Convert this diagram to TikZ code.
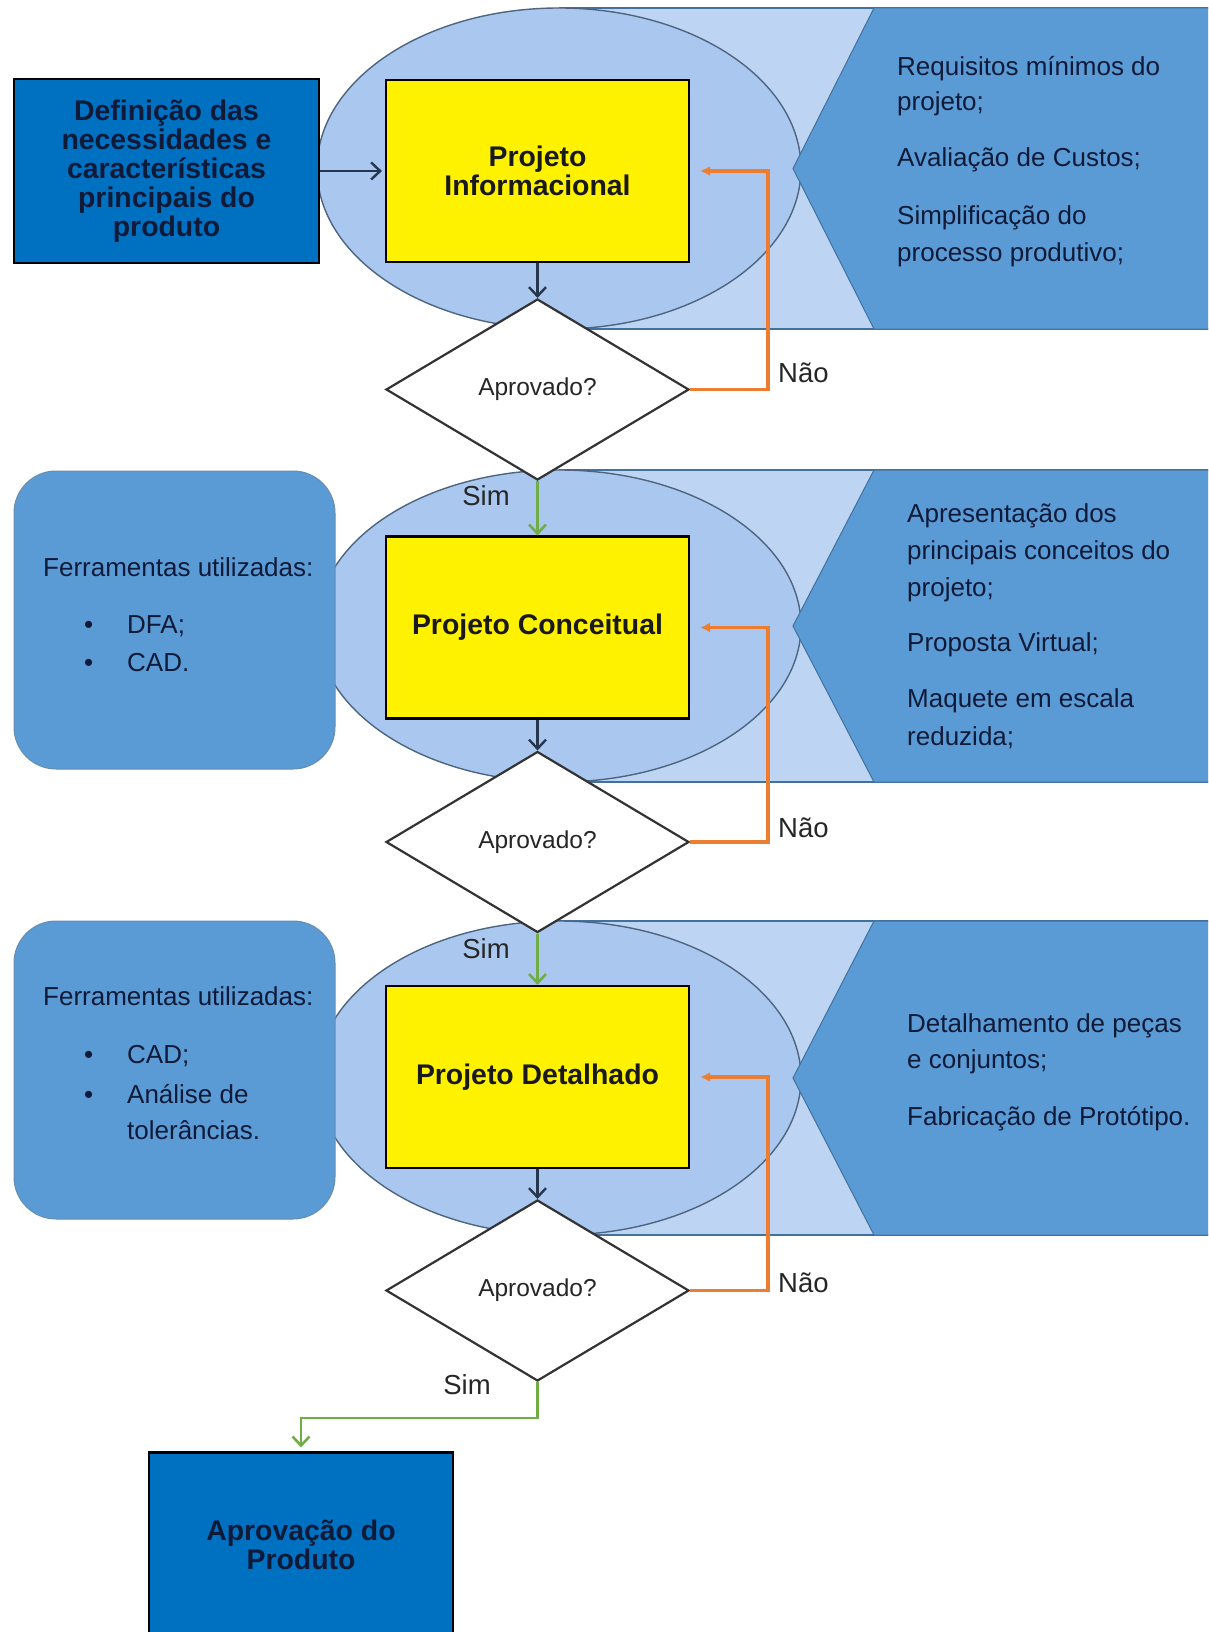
\documentclass[tikz,border=0pt]{standalone}
\usepackage{fontspec}
\setmainfont{Liberation Sans}
\usetikzlibrary{shapes.geometric,arrows.meta}

\definecolor{bandfill}{HTML}{BDD5F3}
\definecolor{ovalfill}{HTML}{AAC8EF}
\definecolor{panelfill}{HTML}{5B9BD5}
\definecolor{edgeblue}{HTML}{41719C}
\definecolor{ovaledge}{HTML}{4E6580}
\definecolor{deepblue}{HTML}{0070C0}
\definecolor{inkblue}{HTML}{0F1A38}
\definecolor{flowdark}{HTML}{26364F}
\definecolor{noorange}{HTML}{ED7D31}
\definecolor{yesgreen}{HTML}{70AD47}

\begin{document}
\begin{tikzpicture}[x=1pt,y=-1pt,
  stagebox/.style={draw=black,line width=2.2pt,fill=yellow,minimum width=303pt,
    minimum height=182pt,inner sep=0pt,align=center,text=black!90,
    font=\fontsize{28.4}{29}\selectfont\bfseries},
  endbox/.style={draw=black,line width=2.2pt,fill=deepblue,minimum width=304pt,
    minimum height=184pt,inner sep=0pt,align=center,text=inkblue,
    font=\fontsize{28.4}{29}\selectfont\bfseries},
  decision/.style={shape=diamond,draw=black!80,line width=2.2pt,fill=white,
    minimum width=303pt,minimum height=181pt,aspect=1.67,inner sep=0pt,
    font=\fontsize{24.5}{28}\selectfont,text=black!85},
  toolpanel/.style={draw=edgeblue!80,line width=1pt,fill=panelfill,
    rounded corners=42pt,minimum width=321pt,minimum height=298pt},
  note/.style={anchor=base west,inner sep=0pt,text=inkblue,
    font=\fontsize{26}{30}\selectfont},
  flowlabel/.style={inner sep=0pt,text=black!85,font=\fontsize{27.5}{30}\selectfont},
  darrow/.style={draw=flowdark,line width=2.4pt,-{Straight Barb[length=9pt,width=17pt]}},
  yarrow/.style={draw=yesgreen,line width=2.6pt,-{Straight Barb[length=9pt,width=17pt]}},
  narrow/.style={draw=noorange,line width=3.4pt,-{Latex[length=10pt,width=10pt]}}
]
\clip (0,0) rectangle (1208,1632);
\fill[white] (0,0) rectangle (1208,1632);

% stage bands: strip, oval and chevron panel
\foreach \ya/\yb in {8/329,470/782,921/1235}{
  \pgfmathsetmacro\ym{(\ya+\yb)/2}
  \pgfmathsetmacro\yh{(\yb-\ya)/2}
  \fill[bandfill] (559,\ya) rectangle (1215,\yb);
  \draw[edgeblue,line width=1.4pt] (559,\ya) -- (1215,\ya) (559,\yb) -- (1215,\yb);
  \filldraw[fill=ovalfill,draw=ovaledge,line width=1.4pt]
    (559,\ym) ellipse [x radius=242pt,y radius=\yh pt];
  \filldraw[fill=panelfill,draw=edgeblue,line width=1pt]
    (874,\ya) -- (1215,\ya) -- (1215,\yb) -- (874,\yb) -- (793,\ym) -- cycle;
}

% tool panels
\node[toolpanel] (tools2) at (174.5,620) {};
\node[toolpanel] (tools3) at (174.5,1070) {};

% process boxes
\node[endbox,minimum width=305pt] (def) at (166.5,171)
  {Definição das\\necessidades e\\características\\principais do\\produto};
\node[stagebox] (pi) at (537.5,171) {Projeto\\Informacional};
\node[decision] (d1) at (537.5,389.5) {Aprovado?};
\node[stagebox] (pc) at (537.5,627.5) {Projeto Conceitual};
\node[decision] (d2) at (537.5,842) {Aprovado?};
\node[stagebox] (pd) at (537.5,1077) {Projeto Detalhado};
\node[decision] (d3) at (537.5,1290.5) {Aprovado?};
\node[endbox] (ap) at (301,1544.5) {Aprovação do\\Produto};

% connectors
\draw[darrow,shorten >=3pt] (def) -- (pi);
\draw[darrow] (pi) -- (d1);
\draw[yarrow] (d1) -- (pc);
\draw[darrow] (pc) -- (d2);
\draw[yarrow] (d2) -- (pd);
\draw[darrow] (pd) -- (d3);
\draw[yarrow,shorten >=4pt] (d3.south) -- ++(0,36) -| (ap.north);
\draw[narrow] (d1.east) -- ++(78,0) |- ([xshift=10pt]pi.east);
\draw[narrow] (d2.east) -- ++(78,0) |- ([xshift=10pt]pc.east);
\draw[narrow] (d3.east) -- ++(78,0) |- ([xshift=10pt]pd.east);

% branch labels
\node[flowlabel,anchor=west] (nao1) at (778,373) {Não};
\node[flowlabel,anchor=west] (nao2) at (778,828) {Não};
\node[flowlabel,anchor=west] (nao3) at (778,1283) {Não};
\node[flowlabel] (sim1) at (486,496) {Sim};
\node[flowlabel] (sim2) at (486,949) {Sim};
\node[flowlabel] (sim3) at (467,1385) {Sim};

% notes on the chevron panels
\node[note] (r11) at (897,76) {Requisitos mínimos do};
\node[note] (r12) at (897,111) {projeto;};
\node[note] (r13) at (897,167) {Avaliação de Custos;};
\node[note] (r14) at (897,225) {Simplificação do};
\node[note] (r15) at (897,261) {processo produtivo;};

\node[note] (r21) at (907,522) {Apresentação dos};
\node[note] (r22) at (907,559) {principais conceitos do};
\node[note] (r23) at (907,596) {projeto;};
\node[note] (r24) at (907,651) {Proposta Virtual;};
\node[note] (r25) at (907,707) {Maquete em escala};
\node[note] (r26) at (907,745) {reduzida;};

\node[note] (r31) at (907,1032) {Detalhamento de peças};
\node[note] (r32) at (907,1068) {e conjuntos;};
\node[note] (r33) at (907,1125) {Fabricação de Protótipo.};

% tool lists
\node[note] (t21) at (43,576) {Ferramentas utilizadas:};
\node[note] (b21) at (84,633) {•};
\node[note] (t22) at (127,633) {DFA;};
\node[note] (b22) at (84,671) {•};
\node[note] (t23) at (127,671) {CAD.};

\node[note] (t31) at (43,1005) {Ferramentas utilizadas:};
\node[note] (b31) at (84,1063) {•};
\node[note] (t32) at (127,1063) {CAD;};
\node[note] (b32) at (84,1103) {•};
\node[note] (t33) at (127,1103) {Análise de};
\node[note] (t34) at (127,1139) {tolerâncias.};
\end{tikzpicture}
\end{document}
